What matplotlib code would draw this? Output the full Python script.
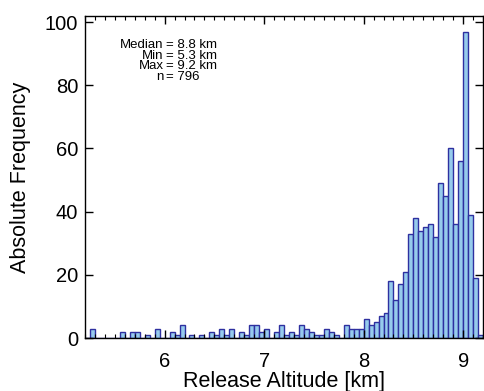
import numpy as np
import matplotlib
matplotlib.use("Agg")
import matplotlib.pyplot as plt
from matplotlib.ticker import MultipleLocator

# histogram of release altitudes, 0.05 km bins starting at 5.2 km
bin_start = 5.2
bin_width = 0.05
counts = [0, 3, 0, 0, 0, 0, 0, 2, 0, 2,
          2, 0, 1, 0, 3, 0, 0, 2, 1, 4,
          0, 1, 0, 1, 0, 2, 1, 3, 1, 3,
          0, 2, 1, 4, 4, 2, 3, 0, 2, 4,
          1, 2, 1, 4, 3, 2, 1, 1, 3, 2,
          1, 0, 4, 3, 3, 3, 6, 4, 5, 7,
          8, 18, 12, 17, 21, 33, 38, 34, 35, 36,
          32, 49, 45, 60, 36, 56, 97, 39, 19, 1]
stat_names = ["Median", "Min", "Max", "n"]
stat_values = ["8.8 km", "5.3 km", "9.2 km", "796"]

plt.rcParams['font.family'] = ['Liberation Sans', 'DejaVu Sans']

fig = plt.figure(figsize=(4.84, 3.91), dpi=100)
ax = fig.add_axes([0.1756, 0.1355, 0.8224, 0.8235])

left = bin_start + bin_width * np.arange(len(counts))
ax.bar(left, counts, width=bin_width, align="edge",
       color="#96cbec", edgecolor="#2e30a0", linewidth=1.0)

ax.set_xlim(5.2, 9.2)
ax.set_ylim(0, 101.9)
ax.xaxis.set_major_locator(MultipleLocator(1))
ax.xaxis.set_minor_locator(MultipleLocator(0.1))
ax.yaxis.set_major_locator(MultipleLocator(20))
ax.tick_params(which="both", direction="in", top=True, right=True,
               labelsize=14.5, colors="black")
ax.tick_params(which="major", length=6, width=1.0)
ax.tick_params(which="minor", length=3, width=0.8)
ax.tick_params(axis="x", which="major", pad=10)
ax.tick_params(axis="y", which="major", pad=5)
for s in ax.spines.values():
    s.set_linewidth(1.0)

ax.set_xlabel("Release Altitude [km]", fontsize=15.5, labelpad=0)
ax.set_ylabel("Absolute Frequency", fontsize=15.5, labelpad=10)

# stats block, aligned on the "=" signs
ax.text(0.197, 0.928, "\n".join(stat_names), transform=ax.transAxes,
        ha="right", va="top", multialignment="right", fontsize=9.5,
        linespacing=0.84)
ax.text(0.203, 0.928, "\n".join("= " + v for v in stat_values),
        transform=ax.transAxes, ha="left", va="top", multialignment="left",
        fontsize=9.5, linespacing=0.84)

fig.savefig("out.png", dpi=100)
